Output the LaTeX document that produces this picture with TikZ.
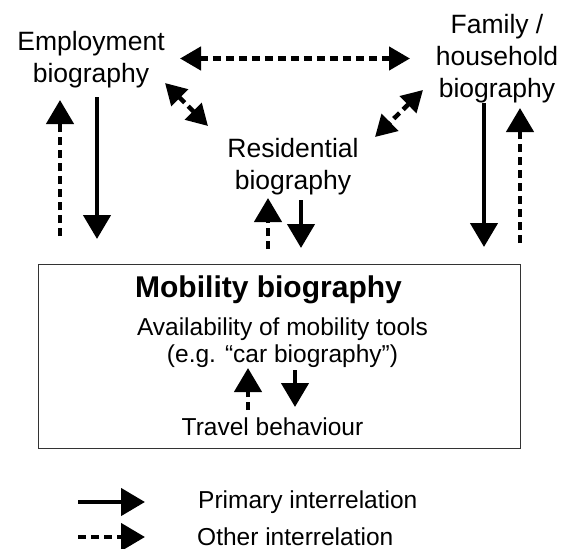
\documentclass[tikz,border=0pt]{standalone}
\usepackage{fontspec}
\setmainfont{Liberation Sans}
\usetikzlibrary{arrows.meta,positioning}

\tikzset{
  lbl/.style={align=center, inner sep=0pt, font=\fontsize{26.5}{32}\selectfont},
  txt/.style={inner sep=0pt, font=\fontsize{24.5}{29}\selectfont},
  prim/.style={line width=4.5pt, -{Triangle[length=24pt,width=27pt]}},
  other/.style={line width=4.5pt, dash pattern=on 8pt off 5pt, -{Triangle[length=24pt,width=27pt]}},
  mutual/.style={line width=4.5pt, dash pattern=on 8pt off 5pt, {Triangle[length=21pt,width=23pt]}-{Triangle[length=21pt,width=23pt]}},
}

\begin{document}
\begin{tikzpicture}[x=1pt, y=-1pt]
    \useasboundingbox (0,0) rectangle (576,549);
    % Biographies
    \node[lbl] (emp) at (91,60) {Employment\\biography};
    \node[lbl] (fam) at (497,59) {Family /\\household\\biography};
    \node[lbl] (res) at (293,167) {Residential\\biography};
    % Mobility box
    \node[draw=black!80, line width=1pt, minimum width=482pt, minimum height=184pt, inner sep=0pt] (mob) at (279,356) {};
    \node[inner sep=0pt, anchor=base, font=\fontsize{30}{34}\selectfont\bfseries] (title) at (268.5,297) {Mobility biography};
    \node[txt, anchor=base] (tools) at (282.5,335) {Availability of mobility tools};
    \node[txt, anchor=base] (car) at (282.5,362) {(e.g. “car biography”)};
    \node[txt, anchor=base] (travel) at (272.5,435) {Travel behaviour};
    % Legend
    \node[txt, anchor=base west] (primlbl) at (198,508) {Primary interrelation};
    \node[txt, anchor=base west] (otherlbl) at (197,545) {Other interrelation};

    % Arrow ends
    \coordinate (h1) at (180,58.5);  \coordinate (h2) at (410,58.5);
    \coordinate (d1) at (165,83);    \coordinate (d2) at (208,126);
    \coordinate (d3) at (423,90);    \coordinate (d4) at (375,137);
    \coordinate (eu1) at (60,236);   \coordinate (eu2) at (60,100);
    \coordinate (ed1) at (97,97);    \coordinate (ed2) at (97,239);
    \coordinate (ru1) at (268,249);  \coordinate (ru2) at (268,198);
    \coordinate (rd1) at (301,200);  \coordinate (rd2) at (301,248);
    \coordinate (fd1) at (484,103);  \coordinate (fd2) at (484,247);
    \coordinate (fu1) at (520,243);  \coordinate (fu2) at (520,108);
    \coordinate (tu1) at (248,410);  \coordinate (tu2) at (248,368);
    \coordinate (td1) at (295,370);  \coordinate (td2) at (295,407);
    \coordinate (lp1) at (78,502);   \coordinate (lp2) at (145,502);
    \coordinate (lo1) at (78,537);   \coordinate (lo2) at (145,537);

    % Arrows
    \draw[mutual] (h1) -- (h2);
    \draw[mutual] (d1) -- (d2);
    \draw[mutual] (d3) -- (d4);
    \draw[other] (eu1) -- (eu2);
    \draw[prim] (ed1) -- (ed2);
    \draw[other] (ru1) -- (ru2);
    \draw[prim] (rd1) -- (rd2);
    \draw[prim] (fd1) -- (fd2);
    \draw[other] (fu1) -- (fu2);
    \draw[other] (tu1) -- (tu2);
    \draw[prim] (td1) -- (td2);
    \draw[prim] (lp1) -- (lp2);
    \draw[other] (lo1) -- (lo2);
\end{tikzpicture}
\end{document}
